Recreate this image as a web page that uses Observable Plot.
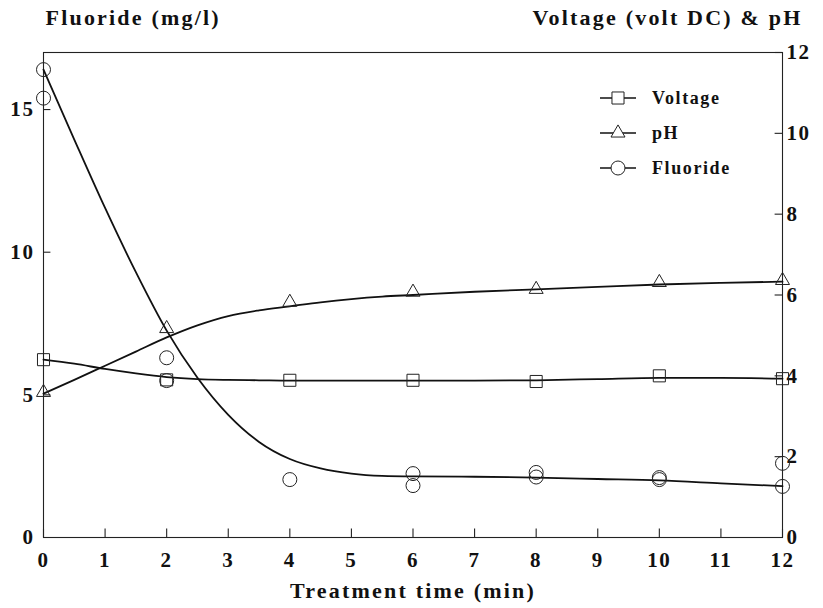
<!DOCTYPE html>
<html><head><meta charset="utf-8">
<script src="https://cdn.jsdelivr.net/npm/d3@7"></script>
<script src="https://cdn.jsdelivr.net/npm/@observablehq/plot@0.6"></script>
<style>
body{margin:0;background:#fff;}
#chart{width:823px;height:608px;}
</style></head><body><div id="chart"></div>
<script>
// measured points
const time = [0, 2, 4, 6, 8, 10, 12];
const voltage = [4.4, 3.9, 3.89, 3.89, 3.86, 4.0, 3.93];
const pH = [3.59, 5.17, 5.82, 6.07, 6.14, 6.31, 6.36];
const fluorideTime = [0, 0, 2, 2, 4, 6, 6, 8, 8, 10, 10, 12, 12];
const fluoride = [16.4, 15.4, 6.3, 5.5, 2.03, 2.24, 1.82, 2.28, 2.12, 2.1, 2.03, 2.6, 1.79];
// fitted curves
const fitTime = [0, 0.5, 1, 1.5, 2, 2.5, 3, 3.5, 4, 4.5, 5, 5.5, 6, 7, 8, 9, 10, 11, 12];
const fluorideFit = [16.4, 13.95, 11.55, 9.3, 7.25, 5.6, 4.3, 3.35, 2.75, 2.42, 2.24, 2.16, 2.14, 2.13, 2.1, 2.05, 2.0, 1.9, 1.8];
const voltageFit = [4.4, 4.3, 4.17, 4.06, 3.97, 3.92, 3.9, 3.89, 3.88, 3.88, 3.88, 3.88, 3.88, 3.88, 3.89, 3.92, 3.95, 3.95, 3.93];
const pHFit = [3.56, 3.9, 4.25, 4.6, 4.95, 5.25, 5.48, 5.62, 5.72, 5.82, 5.9, 5.96, 6.0, 6.08, 6.14, 6.2, 6.26, 6.3, 6.33];
// axes
const xTicks = [0,1,2,3,4,5,6,7,8,9,10,11,12];
const leftTicks = [0, 5, 10, 15];
const rightTicks = [0, 2, 4, 6, 8, 10, 12];
const leftMax = 17, rightMax = 12;
const k = leftMax / rightMax;

const legendItems = [
  {label: "Voltage", symbol: "square", r: 6.8},
  {label: "pH", symbol: "triangle", r: 5.2},
  {label: "Fluoride", symbol: "circle", r: 7}
];

const pts = (xs, ys) => xs.map((x, i) => ({x, y: ys[i]}));
const volPts = pts(time, voltage), phPts = pts(time, pH), fPts = pts(fluorideTime, fluoride);
const fFit = pts(fitTime, fluorideFit), vFit = pts(fitTime, voltageFit), pFit = pts(fitTime, pHFit);

const font = "'Liberation Serif', 'Times New Roman', serif";
const axisText = {fontSize: 21, fontWeight: "bold", fill: "#111", label: null};
const titleText = {lineAnchor: "middle", fontSize: 22, fontWeight: "bold", fill: "#111"};
const chart = Plot.plot({
  width: 823, height: 608,
  marginLeft: 43, marginRight: 41, marginTop: 52, marginBottom: 71,
  style: {fontFamily: font, fontWeight: "bold", fontSize: "21px", letterSpacing: "1.6px", color: "#111", background: "#fff"},
  x: {domain: [0, 12]},
  y: {domain: [0, leftMax]},
  marks: [
    Plot.frame({stroke: "#222", strokeWidth: 1.1}),
    Plot.axisX(xTicks, {tickSize: 0, tickPadding: 15, ...axisText}),
    Plot.axisY(leftTicks, {anchor: "left", tickSize: 0, tickPadding: 9, ...axisText}),
    Plot.axisY(rightTicks.map(v => v * k), {anchor: "right", tickSize: 0, tickPadding: 4, ...axisText, tickFormat: v => String(Math.round(v / k))}),
    Plot.ruleX(xTicks, {x: d => d, y1: 0, y2: 0.3, stroke: "#222", strokeWidth: 1.1}),
    Plot.ruleY(leftTicks.filter(v => v > 0), {y: d => d, x1: 0, x2: 0.12, stroke: "#222", strokeWidth: 1.1}),
    Plot.ruleY(rightTicks.filter(v => v > 0), {y: d => d * k, x1: 12 - 0.12, x2: 12, stroke: "#222", strokeWidth: 1.1}),
    Plot.line(fFit, {x: "x", y: "y", curve: "monotone-x", stroke: "#111", strokeWidth: 1.8}),
    Plot.line(vFit, {x: "x", y: d => d.y * k, curve: "monotone-x", stroke: "#111", strokeWidth: 1.8}),
    Plot.line(pFit, {x: "x", y: d => d.y * k, curve: "monotone-x", stroke: "#111", strokeWidth: 1.8}),
    Plot.dot(fPts, {x: "x", y: "y", symbol: "circle", r: 7, stroke: "#222", strokeWidth: 1, fill: "none"}),
    Plot.dot(volPts, {x: "x", y: d => d.y * k, symbol: "square", r: 6.8, stroke: "#222", strokeWidth: 1, fill: "none"}),
    Plot.dot(phPts, {x: "x", y: d => d.y * k, symbol: "triangle", r: 5.2, stroke: "#222", strokeWidth: 1, fill: "none"}),
    Plot.text(["Fluoride (mg/l)"], {frameAnchor: "top-left", dx: 2, dy: -35, textAnchor: "start", ...titleText}),
    Plot.text(["Voltage (volt DC) & pH"], {frameAnchor: "top-right", dx: 20, dy: -35, textAnchor: "end", ...titleText}),
    Plot.text(["Treatment time (min)"], {frameAnchor: "bottom", dx: 0, dy: 53, textAnchor: "middle", ...titleText})
  ]
});
chart.querySelectorAll("text").forEach(t => t.style.letterSpacing = "2.2px");
chart.querySelectorAll("g[aria-label$='axis tick label'] text").forEach(t => t.style.letterSpacing = "1.6px");
document.getElementById("chart").appendChild(chart);

// legend
const svg = d3.select(chart);
const lg = svg.append("g").attr("transform", "translate(600,98)");
legendItems.forEach((it, i) => {
  const g = lg.append("g").attr("transform", `translate(0,${i * 35})`);
  g.append("line").attr("x1", 0).attr("x2", 36).attr("y1", 0).attr("y2", 0).attr("stroke", "#111").attr("stroke-width", 1.6);
  const sym = {square: d3.symbolSquare, triangle: d3.symbolTriangle, circle: d3.symbolCircle}[it.symbol];
  g.append("path").attr("d", d3.symbol(sym, Math.PI * it.r * it.r)()).attr("transform", "translate(18,0)")
    .attr("fill", "#fff").attr("stroke", "#222").attr("stroke-width", 1);
  g.append("text").attr("x", 52).attr("y", 0).attr("dy", "0.35em").attr("text-anchor", "start")
    .attr("font-size", 18).attr("font-weight", "bold").attr("fill", "#111").style("letter-spacing", "1.6px").text(it.label);
});
</script></body></html>
